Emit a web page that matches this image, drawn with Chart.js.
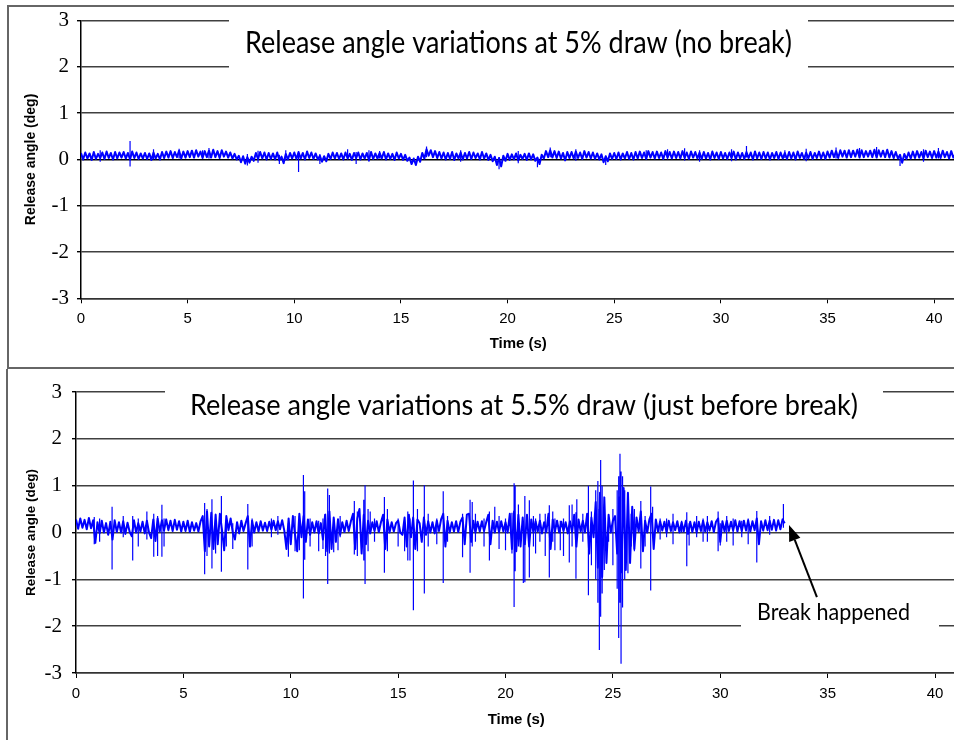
<!DOCTYPE html>
<html>
<head>
<meta charset="utf-8">
<script src="https://cdn.jsdelivr.net/npm/chart.js@4.4.1/dist/chart.umd.min.js"></script>
<style>
  html, body { margin: 0; padding: 0; background: #fff; overflow: hidden; }
  body { width: 954px; height: 740px; position: relative; }
  canvas { position: absolute; left: 0; }
  #chart-no-break { top: 0; }
  #chart-pre-break { top: 369px; }
  .frame { position: absolute; background: #666; }
</style>
</head>
<body>
<div class="frame" style="left:7px;top:5px;width:2px;height:364px"></div>
<div class="frame" style="left:8px;top:5px;width:946px;height:2px"></div>
<div class="frame" style="left:8px;top:367px;width:946px;height:2px"></div>
<div class="frame" style="left:6px;top:369px;width:2px;height:371px"></div>

<canvas id="chart-no-break" width="960" height="369"></canvas>
<canvas id="chart-pre-break" width="960" height="371"></canvas>

<script>
// tick labels
const timeTicks = [0, 5, 10, 15, 20, 25, 30, 35, 40];
const angleTicks = [-3, -2, -1, 0, 1, 2, 3];

// release angle sampled every 0.1 s
const sampleStep = 0.1;

// 5% draw (no break), 0 - 41 s, one row per second
const noBreakAngle = [
  0.14,0.00,0.15,0.02,0.13,-0.01,0.16,0.01,0.12,0.03,
  0.15,0.01,0.17,0.03,0.14,0.00,0.16,0.02,0.15,0.04,
  0.16,0.02,0.14,0.00,0.17,0.03,0.15,0.01,0.13,0.02,
  0.14,0.01,0.13,-0.01,0.15,0.02,0.12,0.00,0.16,0.03,
  0.17,0.04,0.18,0.03,0.16,0.05,0.19,0.02,0.17,0.04,
  0.18,0.05,0.19,0.04,0.20,0.06,0.17,0.03,0.18,0.05,
  0.19,0.04,0.21,0.05,0.18,0.03,0.20,0.06,0.17,0.04,
  0.15,0.02,0.12,0.00,0.08,-0.06,0.07,-0.09,0.05,-0.07,
  0.06,-0.03,0.14,0.01,0.16,0.02,0.15,0.00,0.14,0.01,
  0.13,0.00,0.15,-0.02,0.06,-0.08,0.12,0.00,0.14,0.02,
  0.15,0.01,0.16,0.02,0.14,0.00,0.17,0.03,0.15,0.01,
  0.13,0.00,0.08,-0.05,0.07,-0.04,0.12,0.01,0.15,0.02,
  0.14,0.01,0.13,0.00,0.15,0.02,0.12,-0.01,0.14,0.03,
  0.15,0.00,0.13,0.02,0.14,-0.01,0.16,0.01,0.13,0.02,
  0.14,0.02,0.16,0.00,0.13,0.01,0.12,-0.01,0.15,0.02,
  0.12,-0.01,0.10,-0.03,0.04,-0.10,0.02,-0.12,0.06,-0.05,
  0.14,0.02,0.22,0.08,0.20,0.05,0.18,0.03,0.16,0.02,
  0.15,0.00,0.14,0.01,0.16,-0.01,0.13,0.02,0.15,0.00,
  0.14,0.02,0.16,0.01,0.15,0.03,0.13,0.00,0.16,0.02,
  0.13,-0.01,0.10,-0.04,0.06,-0.12,0.03,-0.15,0.08,-0.03,
  0.12,-0.01,0.11,0.00,0.13,-0.02,0.10,0.01,0.12,-0.01,
  0.13,0.00,0.11,-0.03,0.04,-0.10,0.10,0.02,0.18,0.05,
  0.20,0.04,0.18,0.03,0.17,0.02,0.14,-0.02,0.16,0.03,
  0.16,0.02,0.17,0.03,0.15,0.01,0.18,0.04,0.16,0.02,
  0.15,0.01,0.13,0.00,0.11,-0.06,0.07,-0.04,0.13,0.01,
  0.14,0.01,0.15,0.00,0.13,0.02,0.16,0.01,0.14,0.00,
  0.16,0.02,0.17,0.03,0.15,0.01,0.18,0.04,0.16,0.02,
  0.17,0.03,0.15,0.01,0.18,0.04,0.16,0.02,0.17,0.03,
  0.16,0.02,0.18,0.03,0.15,0.01,0.17,0.04,0.16,0.02,
  0.15,0.01,0.16,0.02,0.14,0.00,0.17,0.03,0.15,0.01,
  0.16,0.02,0.14,0.01,0.15,0.03,0.17,0.00,0.15,0.02,
  0.14,0.01,0.16,0.03,0.15,0.00,0.17,0.02,0.15,0.01,
  0.16,0.02,0.15,0.00,0.14,0.03,0.16,0.01,0.15,0.02,
  0.14,0.01,0.16,0.02,0.15,0.00,0.17,0.03,0.14,0.01,
  0.15,0.02,0.16,0.01,0.14,0.03,0.17,0.02,0.15,0.01,
  0.17,0.04,0.19,0.05,0.18,0.03,0.20,0.06,0.19,0.04,
  0.20,0.05,0.19,0.06,0.21,0.04,0.20,0.05,0.18,0.06,
  0.19,0.05,0.21,0.04,0.20,0.06,0.19,0.05,0.21,0.04,
  0.18,0.03,0.16,0.02,0.10,-0.07,0.12,0.01,0.15,0.02,
  0.17,0.03,0.18,0.04,0.16,0.02,0.19,0.05,0.17,0.03,
  0.18,0.04,0.17,0.03,0.19,0.05,0.16,0.02,0.18,0.04,
  0.12
];
const noBreakSpikeTime = [0.9, 2.3, 3.4, 4.6, 5.7, 6.0, 7.8, 8.3, 9.3, 9.6, 10.2, 11.2, 12.5, 12.9, 13.5, 14.0, 16.2, 17.8, 19.6, 20.5, 21.4, 22.0, 23.2, 24.6, 26.5, 27.5, 28.3, 29.0, 30.5, 31.2, 33.0, 34.0, 35.4, 36.5, 37.3, 38.4, 39.5, 40.2];
const noBreakSpikeHigh = [0.20, 0.40, 0.22, 0.23, 0.20, 0.25, 0.12, 0.19, 0.10, 0.20, 0.12, 0.12, 0.22, 0.16, 0.20, 0.18, 0.28, 0.20, 0.05, 0.18, 0.05, 0.26, 0.22, 0.08, 0.20, 0.22, 0.24, 0.20, 0.22, 0.29, 0.20, 0.23, 0.26, 0.25, 0.27, 0.10, 0.22, 0.25];
const noBreakSpikeLow  = [-0.05, -0.15, 0.00, 0.02, 0.04, 0.02, -0.13, -0.07, -0.10, -0.02, -0.27, -0.10, 0.00, -0.10, -0.05, 0.02, 0.05, -0.05, -0.21, -0.08, -0.17, 0.05, -0.03, -0.12, 0.04, 0.00, -0.02, -0.05, -0.04, 0.04, 0.03, -0.04, 0.02, 0.08, 0.03, -0.14, -0.05, 0.02];

// 5.5% draw (just before break), 0 - 33 s, one row per second
const preBreakAngle = [
  0.28,0.08,0.30,0.10,0.27,0.07,0.31,0.09,0.26,-0.22,
  0.22,-0.02,0.25,0.00,0.20,-0.05,0.23,-0.15,0.26,0.01,
  0.22,0.00,0.24,-0.03,0.21,0.01,-0.08,0.26,0.00,0.20,
  0.02,0.23,-0.02,0.25,0.00,-0.12,0.28,-0.18,0.30,0.02,
  0.26,0.04,0.28,0.05,0.25,0.03,0.27,0.06,0.24,0.02,
  0.23,0.03,0.25,0.01,0.22,0.04,0.20,0.02,0.24,0.35,
  -0.40,0.45,-0.30,0.42,-0.35,0.38,-0.25,0.40,0.05,-0.38,
  0.35,0.05,0.30,0.00,-0.15,0.22,-0.02,0.25,0.03,0.20,
  0.35,-0.30,0.25,0.00,0.22,0.02,0.24,0.04,0.21,0.03,
  0.23,0.06,0.25,0.05,0.24,0.07,0.26,0.04,-0.35,0.30,
  -0.25,0.35,-0.05,-0.40,0.40,-0.10,0.35,-0.20,0.28,-0.05,
  0.22,0.00,0.24,-0.02,0.20,-0.15,0.38,-0.40,0.45,-0.35,
  0.32,-0.20,0.28,-0.05,0.22,0.01,0.25,0.03,0.24,0.40,
  -0.35,0.30,0.50,-0.45,0.38,-0.25,0.25,-0.02,0.22,0.03,
  0.24,0.01,0.22,0.38,-0.35,0.28,0.00,0.22,0.02,0.20,
  0.25,0.00,-0.05,0.32,-0.30,0.38,-0.10,0.32,-0.35,0.28,
  0.20,-0.20,0.32,-0.05,0.24,0.00,0.22,-0.02,0.25,0.03,
  0.28,0.40,-0.30,0.25,0.00,0.22,0.02,0.24,0.01,0.23,
  0.32,-0.25,0.38,0.40,-0.20,0.25,0.00,0.23,0.02,0.24,
  0.03,0.22,0.38,-0.25,0.25,0.00,0.23,0.01,0.24,0.02,
  0.22,0.00,0.40,-0.35,0.45,-0.40,0.38,-0.30,0.32,-0.25,
  0.38,-0.30,0.28,0.00,0.24,0.02,0.25,-0.02,0.22,0.01,
  0.40,-0.35,0.28,0.02,0.25,0.00,0.23,0.03,0.22,-0.02,
  0.24,0.01,0.38,-0.30,0.28,0.02,0.25,0.00,0.40,-0.45,
  0.32,-0.10,0.65,-0.75,0.85,-0.95,0.75,-0.65,0.38,0.00,
  0.25,0.35,-0.45,0.75,-0.85,0.95,-0.80,0.85,-0.65,0.55,
  -0.35,0.32,0.02,0.45,-0.40,0.25,0.00,0.28,0.40,-0.35,
  0.28,0.02,0.24,0.04,0.23,0.00,0.25,0.03,0.22,0.05,
  0.24,0.00,0.22,0.02,0.25,-0.03,0.23,0.01,0.22,0.00,
  0.23,0.03,0.25,0.02,0.22,0.04,0.24,0.01,0.23,0.30,
  -0.20,0.24,0.02,0.25,0.03,0.23,0.04,0.26,0.02,0.24,
  0.03,0.25,0.04,0.26,0.02,0.24,0.05,0.30,-0.25,0.24,
  0.04,0.26,0.05,0.25,0.06,0.27,0.04,0.26,0.07,0.28,
  0.20
];
// large spikes
const preBreakSpikeTime = [0.85,1.68,2.64,3.62,4.00,5.99,6.33,6.77,8.00,9.89,10.40,10.59,10.65,11.30,11.62,11.72,11.80,12.00,12.20,12.96,13.40,13.46,13.70,14.36,15.30,15.45,15.55,15.71,16.22,16.80,17.10,18.00,18.35,18.45,19.25,19.50,20.00,20.30,20.40,20.45,20.60,20.83,20.90,21.11,21.60,21.85,22.04,22.30,22.55,22.97,23.28,23.32,23.86,24.00,24.20,24.30,24.37,24.43,24.50,24.60,25.00,25.20,25.27,25.33,25.38,25.45,25.55,25.70,25.85,26.30,26.76,26.85,27.50,28.20,28.44,28.55,29.20,29.40,29.90,30.00,30.60,31.00,31.70,32.94];
const preBreakSpikeHigh = [0.33,0.55,0.35,0.40,0.59,0.63,0.71,0.78,0.61,0.20,0.35,1.23,0.88,0.25,0.40,0.94,0.80,0.30,0.30,0.67,0.70,1.01,0.45,0.76,0.20,0.45,0.30,1.11,1.01,0.30,0.88,0.40,0.70,0.65,0.45,0.55,0.30,0.42,1.05,1.00,0.60,0.20,0.78,0.69,0.40,0.40,0.58,0.30,0.25,0.58,0.43,0.71,1.00,0.45,0.90,1.10,0.50,1.55,1.00,0.60,0.50,0.90,1.20,1.68,1.30,1.20,0.90,0.60,0.40,0.67,0.98,0.55,0.30,0.25,0.43,0.20,0.30,0.35,0.45,0.20,0.30,0.25,0.46,0.61];
const preBreakSpikeLow  = [-0.25,-0.79,-0.60,-0.52,-0.52,-0.89,-0.77,-0.84,-0.79,-0.52,-0.38,-1.41,-0.58,-0.40,-0.50,-1.10,-0.45,-0.42,-0.38,-0.47,-0.60,-1.10,0.00,-0.86,-0.40,-0.60,-0.60,-1.66,-1.30,-0.25,-1.08,-0.53,-0.86,-0.30,-0.60,0.05,-0.38,-0.45,-1.59,-0.83,-0.30,-1.08,-1.06,-0.96,-0.20,-0.50,-0.96,-0.38,-0.38,-0.64,-0.99,0.00,-1.34,-0.70,-1.00,-1.50,-2.51,-1.80,-1.30,-0.80,-0.70,-1.20,-2.25,-1.50,-2.80,-1.60,-1.00,-0.87,-0.30,-0.77,-1.24,-0.10,-0.10,0.00,-0.72,-0.28,-0.20,-0.20,-0.40,-0.28,-0.28,-0.10,-0.64,0.10];
// smaller spikes
const preBreakMinorTime = [1.1,2.2,2.9,3.3,3.8,4.1,6.1,6.5,7.0,7.3,8.2,9.1,9.4,10.2,10.9,11.5,12.3,13.1,13.6,13.9,14.5,15.0,15.9,16.4,17.3,18.6,19.0,19.7,21.3,21.4,22.2,22.7,23.1,23.6,24.8,26.0,26.5,27.2,27.8,28.9,30.3,31.3,32.3];
const preBreakMinorHigh = [0.30,0.35,0.30,0.45,0.35,0.30,0.50,0.40,0.25,0.20,0.30,0.30,0.35,0.35,0.30,0.30,0.35,0.45,0.50,0.30,0.50,0.30,0.50,0.40,0.35,0.40,0.30,0.35,0.35,0.30,0.45,0.30,0.60,0.40,0.30,0.50,0.35,0.30,0.40,0.35,0.35,0.30,0.35];
const preBreakMinorLow  = [-0.20,-0.10,-0.30,-0.15,-0.50,-0.30,-0.50,-0.45,-0.30,-0.35,-0.30,-0.10,-0.05,-0.40,-0.30,-0.35,-0.10,-0.50,-0.40,-0.20,-0.40,-0.30,-0.40,-0.30,-0.20,-0.20,-0.30,-0.35,-0.30,-0.45,-0.20,-0.50,-0.30,-0.20,-0.20,-0.40,-0.30,-0.15,-0.25,-0.10,-0.20,-0.25,-0.05];

// arrow to where the break happened (time, angle)
const breakArrowTip = [33.2, 0.16];
const breakArrowTail = [34.5, -1.38];

function trace(values) {
  return values.map((v, i) => ({ x: Math.round(i * sampleStep * 100) / 100, y: v }));
}

function spikes(times, high, low) {
  const pts = [];
  times.forEach((t, i) => {
    pts.push({ x: t, y: low[i] }, { x: t, y: high[i] }, { x: t, y: null });
  });
  return pts;
}

// white-backed text boxes sitting over the grid, plus the arrow
const notesPlugin = {
  id: 'notes',
  afterDatasetsDraw(chart, args, opts) {
    const ctx = chart.ctx;
    (opts.labels || []).forEach(l => {
      ctx.save();
      ctx.fillStyle = '#fff';
      ctx.fillRect(l.box[0], l.box[1], l.box[2] - l.box[0], l.box[3] - l.box[1]);
      ctx.font = l.size + 'px Lato';
      const w = ctx.measureText(l.text).width;
      ctx.translate(l.cx, l.base);
      ctx.scale(l.width / w, 1);
      ctx.fillStyle = '#000';
      ctx.textAlign = 'center';
      ctx.textBaseline = 'alphabetic';
      ctx.fillText(l.text, 0, 0);
      ctx.restore();
    });
    if (opts.arrow) {
      const xs = chart.scales.x, ys = chart.scales.y;
      const tx = xs.getPixelForValue(opts.arrow.tip[0]), ty = ys.getPixelForValue(opts.arrow.tip[1]);
      const fx = xs.getPixelForValue(opts.arrow.tail[0]), fy = ys.getPixelForValue(opts.arrow.tail[1]);
      const a = Math.atan2(ty - fy, tx - fx);
      const len = 16, half = 6;
      const bx = tx - len * Math.cos(a), by = ty - len * Math.sin(a);
      ctx.save();
      ctx.strokeStyle = '#000';
      ctx.fillStyle = '#000';
      ctx.lineWidth = 2;
      ctx.beginPath();
      ctx.moveTo(fx, fy);
      ctx.lineTo(bx, by);
      ctx.stroke();
      ctx.beginPath();
      ctx.moveTo(tx, ty);
      ctx.lineTo(bx + half * Math.sin(a), by - half * Math.cos(a));
      ctx.lineTo(bx - half * Math.sin(a), by + half * Math.cos(a));
      ctx.closePath();
      ctx.fill();
      ctx.restore();
    }
  }
};

function makeChart(id, p) {
  return new Chart(document.getElementById(id), {
    type: 'line',
    data: {
      datasets: [{
        data: trace(p.angle),
        borderColor: '#0000ff',
        borderWidth: 2,
        borderJoinStyle: 'round',
        pointRadius: 0,
        tension: 0
      }, {
        data: p.spikes,
        borderColor: '#0000ff',
        borderWidth: 1.2,
        pointRadius: 0,
        tension: 0,
        spanGaps: false
      }]
    },
    options: {
      responsive: false,
      animation: false,
      events: [],
      layout: { padding: { left: 0, top: p.areaTop, right: p.padRight, bottom: 0 } },
      plugins: {
        legend: { display: false },
        tooltip: { enabled: false },
        notes: { labels: p.labels, arrow: p.arrow }
      },
      scales: {
        x: {
          type: 'linear',
          min: 0,
          max: 41,
          afterBuildTicks: s => { s.ticks = timeTicks.map(v => ({ value: v })); },
          afterFit: s => { s.height = p.xHeight; },
          ticks: { padding: 7, color: '#000', maxRotation: 0, font: { family: 'Liberation Sans', size: 15 } },
          grid: { drawOnChartArea: false, drawTicks: true, tickLength: 5, tickColor: '#000' },
          border: { color: '#333', width: 1.5 },
          title: {
            display: true, text: 'Time (s)', color: '#000',
            font: { family: 'Liberation Sans', size: 15, weight: 'bold' },
            padding: { top: 0, bottom: p.xTitlePad }
          }
        },
        y: {
          min: -3,
          max: 3,
          afterBuildTicks: s => { s.ticks = angleTicks.map(v => ({ value: v })); },
          afterFit: s => { s.width = p.yWidth; },
          ticks: { padding: p.yTickPad, color: '#000', font: { family: 'Liberation Serif', size: 21 } },
          grid: {
            color: c => (c.tick && c.tick.value === 0 && p.zeroBlack) ? '#000' : '#404040',
            lineWidth: 1.4,
            tickLength: 4,
            tickColor: '#000'
          },
          border: { color: '#000', width: 1.5 },
          title: {
            display: true, text: 'Release angle (deg)', color: '#000',
            font: { family: 'Liberation Sans', size: p.yTitleSize, weight: 'bold' },
            padding: { top: 23, bottom: 0 }
          }
        }
      }
    },
    plugins: [notesPlugin]
  });
}

makeChart('chart-no-break', {
  angle: noBreakAngle,
  spikes: spikes(noBreakSpikeTime, noBreakSpikeHigh, noBreakSpikeLow),
  areaTop: 18.3, padRight: 4.5, xHeight: 70.7, yWidth: 81, yTickPad: 8,
  xTitlePad: 16, yTitleSize: 14, zeroBlack: true,
  labels: [{
    text: 'Release angle variations at 5% draw (no break)',
    box: [229, 12, 808, 72], cx: 518.5, base: 53.3, width: 547, size: 30
  }]
});

makeChart('chart-pre-break', {
  angle: preBreakAngle,
  spikes: spikes(preBreakSpikeTime, preBreakSpikeHigh, preBreakSpikeLow)
    .concat(spikes(preBreakMinorTime, preBreakMinorHigh, preBreakMinorLow)),
  areaTop: 23, padRight: 3.5, xHeight: 67, yWidth: 76, yTickPad: 10,
  xTitlePad: 11, yTitleSize: 13.5, zeroBlack: false,
  labels: [{
    text: 'Release angle variations at 5.5% draw (just before break)',
    box: [165, 12, 883, 60], cx: 524, base: 46, width: 668, size: 29
  }, {
    text: 'Break happened',
    box: [741, 228, 939, 272], cx: 833.5, base: 251, width: 153, size: 23
  }],
  arrow: { tip: breakArrowTip, tail: breakArrowTail }
});
</script>
</body>
</html>
